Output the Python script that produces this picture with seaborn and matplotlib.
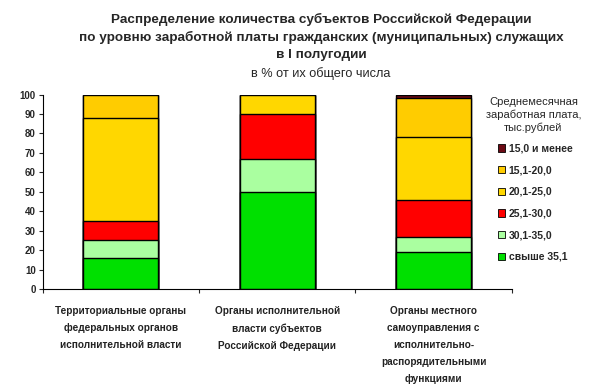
import matplotlib
matplotlib.use("Agg")
import matplotlib.pyplot as plt
from matplotlib.patches import Patch
import seaborn as sns
import numpy as np
import pandas as pd

# categories (x axis)
categories = [
    "Территориальные органы\nфедеральных органов\nисполнительной власти",
    "Органы исполнительной\nвласти субъектов\nРоссийской Федерации",
    "Органы местного\nсамоуправления с\nисполнительно-\nраспорядительными\nфункциями",
]

# salary groups, bottom of stack first
groups = ["свыше 35,1", "30,1-35,0", "25,1-30,0", "20,1-25,0", "15,1-20,0", "15,0 и менее"]
colors = ["#00e000", "#aaffa0", "#ff0000", "#ffd700", "#ffcc00", "#6b0a14"]

# shares in % per group, one value per category
over_35 = [16, 50, 19]
s30_35 = [9, 17, 8]
s25_30 = [10, 23, 19]
s20_25 = [53, 10, 32]
s15_20 = [12, 0, 20]
under_15 = [0, 0, 2]

values = [over_35, s30_35, s25_30, s20_25, s15_20, under_15]

sns.set_style("white")
plt.rcParams["font.family"] = ["Liberation Sans", "DejaVu Sans"]

fig = plt.figure(figsize=(6.02, 3.89), dpi=100)
ax = fig.add_axes([0.071, 0.257, 0.779, 0.5])

cum = np.cumsum(np.array(values), axis=0)
# draw tallest stack first, then shorter ones on top
for i in range(len(groups) - 1, -1, -1):
    df = pd.DataFrame({"cat": categories, "val": cum[i]})
    sns.barplot(data=df, x="cat", y="val", color=colors[i], edgecolor="black",
                linewidth=1.0, width=0.48, saturation=1, ax=ax)

ax.set_xlim(-0.5, 2.5)
ax.set_ylim(0, 100)
ax.set_yticks(range(0, 101, 10))
ax.tick_params(axis="y", labelsize=7, length=3, width=0.8, direction="out", left=True, pad=2)
ax.set_xticks([0, 1, 2])
ax.set_xticklabels(categories, fontsize=7.2, fontweight="bold", color="#222222", linespacing=1.9)
ax.tick_params(axis="x", length=0, pad=12)
ax.set_xticks([-0.5, 0.5, 1.5, 2.5], minor=True)
ax.tick_params(axis="x", which="minor", length=3, width=0.8, direction="out", bottom=True)
for lab in ax.get_yticklabels():
    lab.set_fontweight("bold")
ax.set_xlabel("")
ax.set_ylabel("")
for s in ["top", "right"]:
    ax.spines[s].set_visible(False)
for s in ["left", "bottom"]:
    ax.spines[s].set_color("black")
    ax.spines[s].set_linewidth(0.8)

# legend, top group first
handles = [Patch(facecolor=colors[i], edgecolor="black", linewidth=0.6, label=groups[i])
           for i in range(len(groups) - 1, -1, -1)]
leg = fig.legend(handles=handles, loc="upper left", bbox_to_anchor=(0.812, 0.655),
                 frameon=False, prop={"size": 7.5, "weight": "bold"},
                 handlelength=0.7, handleheight=0.7, handletextpad=0.3, labelspacing=1.12)
fig.text(0.886, 0.705, "Среднемесячная\nзаработная плата,\nтыс.рублей", ha="center", va="center",
         fontsize=8, linespacing=1.3)

fig.text(0.533, 0.967, "Распределение количества субъектов Российской Федерации\n"
         "по уровню заработной платы гражданских (муниципальных) служащих\nв I полугодии",
         ha="center", va="top", fontsize=9.7, fontweight="bold", linespacing=1.55)
fig.text(0.533, 0.812, "в % от их общего числа", ha="center", va="center", fontsize=9.2)

fig.savefig("out.png", dpi=100)
